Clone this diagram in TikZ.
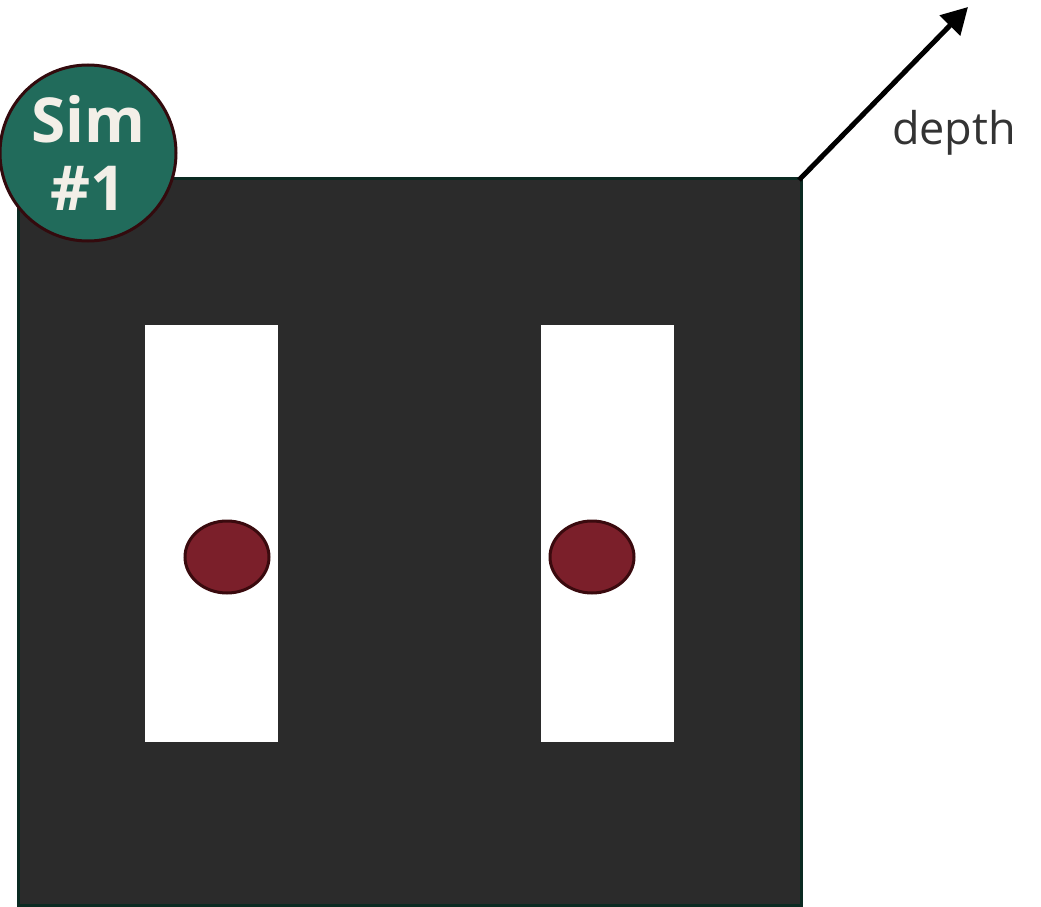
\documentclass[tikz,border=0pt]{standalone}
\usepackage{fontspec}
\setmainfont{Open Sans}
\usetikzlibrary{arrows.meta,shapes.geometric}
\definecolor{boardfill}{HTML}{2B2B2B}
\definecolor{boardedge}{HTML}{0B2A22}
\definecolor{dotfill}{HTML}{7B1F2A}
\definecolor{dotedge}{HTML}{3A0A0E}
\definecolor{simfill}{HTML}{216B5B}
\definecolor{simedge}{HTML}{330A0D}
\definecolor{simtext}{HTML}{F3EFE8}
\definecolor{labeltext}{HTML}{333333}
\tikzset{
  board/.style={fill=boardfill, draw=boardedge, line width=3pt},
  slot/.style={fill=white, draw=none},
  dot/.style={ellipse, fill=dotfill, draw=dotedge, line width=3pt, minimum width=84pt, minimum height=72pt, inner sep=0pt},
  badge/.style={circle, fill=simfill, draw=simedge, line width=3pt, minimum size=176pt, inner sep=0pt, text=simtext, font=\fontsize{62}{76}\selectfont\bfseries, align=center},
  axis/.style={line width=5pt, -{Triangle[length=26pt,width=28pt]}},
}
\begin{document}
\begin{tikzpicture}[x=1pt,y=-1pt]
\useasboundingbox (0,0) rectangle (1041,907);
\draw[board] (18,178) rectangle (801,905);
\fill[slot] (145,325) rectangle (278,742);
\fill[slot] (541,325) rectangle (674,742);
\node[dot] (d1) at (227,557) {};
\node[dot] (d2) at (592,557) {};
\node[badge] (sim) at (88,153) {Sim\\[-8pt]\#1};
\coordinate (corner) at (799,180);
\coordinate (tip) at (968,7);
\draw[axis] (corner) -- (tip);
\node[text=labeltext, font=\fontsize{45}{54}\selectfont, anchor=center] (depth) at (954,133) {depth};
\end{tikzpicture}
\end{document}
